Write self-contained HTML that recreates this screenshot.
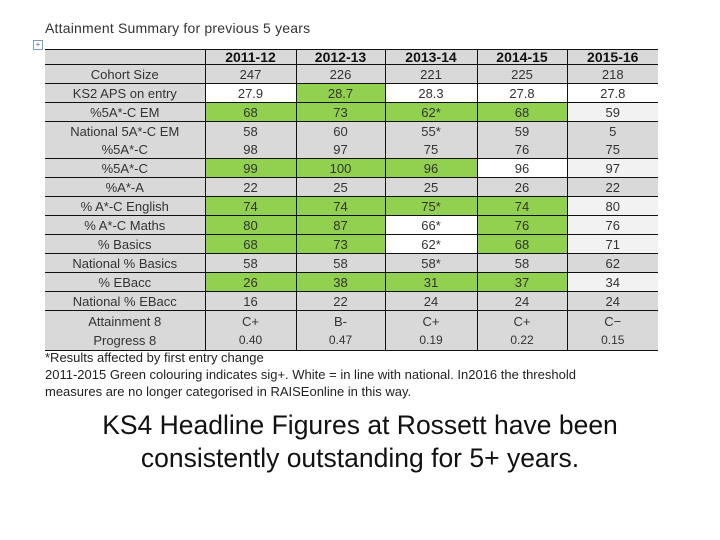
<!DOCTYPE html>
<html><head><meta charset="utf-8">
<style>
body{margin:0;width:720px;height:540px;background:#fff;position:relative;overflow:hidden;font-family:"Liberation Sans",sans-serif;}
#title{position:absolute;left:45px;top:20px;font-size:14px;color:#333;letter-spacing:0.2px}
#anchor{position:absolute;left:33px;top:40px;width:8px;height:8px;border:1px solid #7a9cc6;font-size:8px;line-height:8px;text-align:center;color:#4a6fa5}
table{position:absolute;left:45px;top:49px;border-collapse:collapse;table-layout:fixed;font-size:13px;color:#333}
td,th{background:#d9d9d9;text-align:center;padding:0;height:18px;border-bottom:1px solid #111;border-left:1px solid #111;line-height:17px;white-space:nowrap;overflow:hidden}
td:first-child,th:first-child{border-left:none}
th{font-weight:bold;font-size:14px;color:#111;border-top:1px solid #111;height:14px;line-height:14px}
.g{background:#92d050}.w{background:#fff}.l{background:#f2f2f2}
tr.nb td{border-bottom:none}
tr.att td{height:20px;border-bottom:none}
tr.prog td{height:19px;border-bottom:1px solid #111;font-size:12px}
.note{position:absolute;left:45px;font-size:13px;color:#222}
#headline{position:absolute;left:0;width:720px;top:409px;text-align:center;font-size:26.5px;line-height:33px;color:#111}
</style></head><body>
<div id="title">Attainment Summary for previous 5 years</div>
<div id="anchor">+</div>
<table>
<colgroup><col style="width:160px"><col style="width:91px"><col style="width:89px"><col style="width:92px"><col style="width:90px"><col style="width:91px"></colgroup>
<tr><th></th><th>2011-12</th><th>2012-13</th><th>2013-14</th><th>2014-15</th><th>2015-16</th></tr>
<tr><td>Cohort Size</td><td>247</td><td>226</td><td>221</td><td>225</td><td>218</td></tr>
<tr><td>KS2 APS on entry</td><td class="w">27.9</td><td class="g">28.7</td><td class="w">28.3</td><td class="w">27.8</td><td class="w">27.8</td></tr>
<tr><td>%5A*-C EM</td><td class="g">68</td><td class="g">73</td><td class="g">62*</td><td class="g">68</td><td class="l">59</td></tr>
<tr class="nb"><td>National 5A*-C EM</td><td>58</td><td>60</td><td>55*</td><td>59</td><td>5</td></tr>
<tr><td>%5A*-C</td><td>98</td><td>97</td><td>75</td><td>76</td><td>75</td></tr>
<tr><td>%5A*-C</td><td class="g">99</td><td class="g">100</td><td class="g">96</td><td class="w">96</td><td class="l">97</td></tr>
<tr><td>%A*-A</td><td>22</td><td>25</td><td>25</td><td>26</td><td>22</td></tr>
<tr><td>% A*-C English</td><td class="g">74</td><td class="g">74</td><td class="g">75*</td><td class="g">74</td><td class="l">80</td></tr>
<tr><td>% A*-C Maths</td><td class="g">80</td><td class="g">87</td><td class="w">66*</td><td class="g">76</td><td class="l">76</td></tr>
<tr><td>% Basics</td><td class="g">68</td><td class="g">73</td><td class="w">62*</td><td class="g">68</td><td class="l">71</td></tr>
<tr><td>National % Basics</td><td>58</td><td>58</td><td>58*</td><td>58</td><td>62</td></tr>
<tr><td>% EBacc</td><td class="g">26</td><td class="g">38</td><td class="g">31</td><td class="g">37</td><td class="l">34</td></tr>
<tr><td>National % EBacc</td><td>16</td><td>22</td><td>24</td><td>24</td><td>24</td></tr>
<tr class="att"><td>Attainment 8</td><td>C+</td><td>B-</td><td>C+</td><td>C+</td><td>C−</td></tr>
<tr class="prog"><td style="font-size:13px">Progress 8</td><td>0.40</td><td>0.47</td><td>0.19</td><td>0.22</td><td>0.15</td></tr>
</table>
<div class="note" style="top:350px">*Results affected by first entry change</div>
<div class="note" style="top:367px">2011-2015 Green colouring indicates sig+. White = in line with national. In2016 the threshold</div>
<div class="note" style="top:384px">measures are no longer categorised in RAISEonline in this way.</div>
<div id="headline">KS4 Headline Figures at Rossett have been<br>consistently outstanding for 5+ years.</div>
</body></html>
